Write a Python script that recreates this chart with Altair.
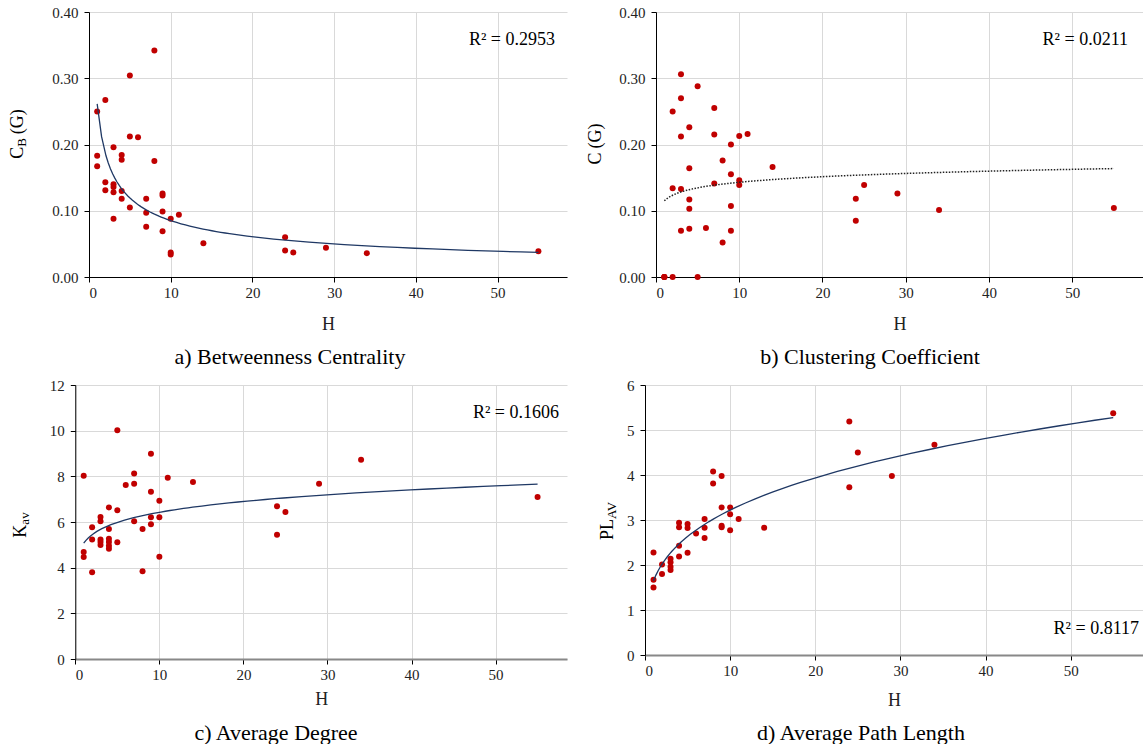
import altair as alt
import pandas as pd

# ---------------- data ----------------
H_a = [1, 1, 1, 2, 2, 2, 3, 3, 3, 3, 3, 4, 4, 4, 4, 5, 5, 5, 6, 7, 7, 7, 8, 8,
       9, 9, 9, 9, 10, 10, 10, 11, 14, 24, 24, 25, 29, 34, 55]
CB = [0.250, 0.183, 0.167, 0.267, 0.143, 0.131, 0.196, 0.140, 0.136, 0.128, 0.088,
      0.184, 0.177, 0.130, 0.118, 0.304, 0.212, 0.105, 0.211, 0.118, 0.097, 0.076,
      0.342, 0.175, 0.126, 0.123, 0.099, 0.069, 0.088, 0.037, 0.034, 0.094, 0.051,
      0.060, 0.040, 0.037, 0.044, 0.036, 0.039]

H_b = [1, 1, 1, 2, 2, 2, 3, 3, 3, 3, 3, 4, 4, 4, 4, 4, 5, 5, 6, 7, 7, 7, 8, 8,
       9, 9, 9, 9, 10, 10, 10, 11, 14, 24, 24, 25, 29, 34, 55]
CC = [0.0, 0.0, 0.0, 0.250, 0.134, 0.0, 0.306, 0.270, 0.212, 0.133, 0.070,
      0.226, 0.164, 0.117, 0.103, 0.073, 0.288, 0.0, 0.074, 0.255, 0.215, 0.141,
      0.176, 0.052, 0.200, 0.155, 0.107, 0.070, 0.213, 0.146, 0.139, 0.216, 0.166,
      0.118, 0.085, 0.139, 0.126, 0.101, 0.104]

H_c = [1, 1, 1, 2, 2, 2, 3, 3, 3, 3, 3, 4, 4, 4, 4, 4, 4, 5, 5, 5, 6, 7, 7, 7,
       8, 8, 9, 9, 9, 9, 10, 10, 10, 11, 14, 24, 24, 25, 29, 34, 55]
KAV = [8.03, 4.69, 4.47, 5.77, 5.23, 3.80, 6.22, 6.03, 5.23, 5.12, 4.99,
       6.64, 5.69, 5.27, 5.12, 4.96, 4.83, 10.02, 6.51, 5.11, 7.62, 8.12, 7.68, 6.03,
       5.69, 3.84, 8.99, 7.33, 6.21, 5.90, 6.93, 6.21, 4.48, 7.94, 7.75,
       6.69, 5.44, 6.44, 7.68, 8.73, 7.10]

H_d = [1, 1, 1, 2, 2, 3, 3, 3, 3, 4, 4, 4, 4, 5, 5, 5, 6, 7, 7, 7, 8, 8,
       9, 9, 9, 9, 10, 10, 10, 11, 14, 24, 24, 25, 29, 34, 55]
PL = [2.28, 1.67, 1.50, 2.01, 1.80, 2.14, 2.06, 1.96, 1.89, 2.94, 2.84, 2.43, 2.19,
      2.91, 2.82, 2.27, 2.70, 3.02, 2.83, 2.60, 4.08, 3.81, 3.98, 3.28, 2.87, 2.84,
      3.28, 3.13, 2.77, 3.02, 2.83, 5.19, 3.73, 4.50, 3.98, 4.67, 5.37]

R2_TEXT = ["R\u00b2 = 0.2953", "R\u00b2 = 0.0211", "R\u00b2 = 0.1606", "R\u00b2 = 0.8117"]
CAPTIONS = ["a) Betweenness Centrality", "b) Clustering Coefficient",
            "c) Average Degree", "d) Average Path Length"]
X_TICKS = [0, 10, 20, 30, 40, 50]
Y_TICKS_AB = [0.0, 0.1, 0.2, 0.3, 0.4]
Y_TICKS_C = [0, 2, 4, 6, 8, 10, 12]
Y_TICKS_D = [0, 1, 2, 3, 4, 5, 6]

# ---------------- style ----------------
FONT = "Liberation Serif"
RED = "#C00000"
NAVY = "#1F3864"
XMAX = 58.5
EM = {"C": .667, "B": .667, "K": .722, "a": .444, "v": .5, "P": .556, "L": .611,
      "A": .722, "V": .722, " ": .25, "(": .333, ")": .333, "G": .722}


def tw(s, size):
    return sum(EM.get(ch, .5) for ch in s) * size


def ytitle(parts, cx, cy):
    # parts: (text, font size, shift across the text line, gap before)
    total = sum(tw(t, s) + g for t, s, _, g in parts)
    y = cy + total / 2
    out = []
    for t, s, dx, g in parts:
        y -= g
        out.append(
            alt.Chart(pd.DataFrame({"t": [t]}))
            .mark_text(angle=270, align="left", baseline="middle", font=FONT,
                       fontSize=s, color="#000")
            .encode(text="t:N", x=alt.value(cx + dx), y=alt.value(y))
        )
        y -= tw(t, s)
    return out


def anchor(x, y):
    return (alt.Chart(pd.DataFrame({"a": [0]}))
            .mark_rect(opacity=0)
            .encode(x=alt.value(x), x2=alt.value(x + 1), y=alt.value(y), y2=alt.value(y + 1)))


def panel(H, V, c):
    df = pd.DataFrame({"H": H, "V": V})
    shift = c.get("shift", 0)
    xs = dict(domain=[0, XMAX], nice=False, zero=False)
    if shift:
        xs["range"] = [-shift, c["w"]]
    x = alt.X("H:Q", scale=alt.Scale(**xs),
              axis=alt.Axis(values=X_TICKS, title="H", titlePadding=c["xtp"],
                            domainColor=c["xdc"], domainWidth=c["xdw"],
                            labelFont=FONT, titleFont=FONT, labelPadding=3))
    yax = dict(values=c["yticks"], format=c["yfmt"], title=None,
               labelFont=FONT, labelPadding=6)
    if shift:
        yax["offset"] = shift
    y = alt.Y("V:Q", scale=alt.Scale(domain=[0, c["yticks"][-1]], nice=False, zero=False),
              axis=alt.Axis(**yax))
    pts = alt.Chart(df).mark_circle(size=36, color=RED, opacity=1).encode(x=x, y=y)
    lk = dict(color=c["lc"], strokeWidth=c["lw"])
    if c.get("dash"):
        lk["strokeDash"] = c["dash"]
    fit = (alt.Chart(df).transform_regression("H", "V", method=c["method"])
           .mark_line(**lk).encode(x="H:Q", y="V:Q"))
    r2 = (alt.Chart(pd.DataFrame({"t": [c["r2"]]}))
          .mark_text(align="right", baseline="middle", font=FONT, fontSize=18, color="#000")
          .encode(text="t:N", x=alt.value(c["r2x"]), y=alt.value(c["r2y"])))
    cap = (alt.Chart(pd.DataFrame({"t": [c["cap"]]}))
           .mark_text(align="center", baseline="middle", font=FONT, fontSize=22, color="#000")
           .encode(text="t:N", x=alt.value(c["capx"]), y=alt.value(c["capy"])))
    layers = [pts, fit, r2, cap] + ytitle(c["title"], c["tx"], c["ty"])
    layers += [anchor(*a) for a in c.get("anchors", [])]
    return alt.layer(*layers).properties(width=c["w"], height=c["h"])


pa = panel(H_a, CB, dict(w=478, h=265, yticks=Y_TICKS_AB, yfmt=".2f", method="pow",
                         lc=NAVY, lw=1.3, r2=R2_TEXT[0], r2x=466, r2y=28,
                         cap=CAPTIONS[0], capx=201, capy=345, xtp=15, xdc="#000", xdw=1,
                         title=[("C", 18, 0, 0), ("B", 13, 4, 0), ("(G)", 18, 0, 4)],
                         tx=-71, ty=122,
                         anchors=[(-89, -12), (-89, 362)]))
pb = panel(H_b, CC, dict(w=487, h=265, yticks=Y_TICKS_AB, yfmt=".2f", method="log",
                         lc="#222", lw=1.5, dash=[1.5, 1.5], r2=R2_TEXT[1], r2x=472, r2y=28,
                         cap=CAPTIONS[1], capx=214, capy=345, xtp=15, xdc="#000", xdw=1,
                         title=[("C", 18, 0, 0), ("(G)", 18, 0, 4)], tx=-60, ty=132))
# panel c: its plot group shares the left origin of panel a (x=89); the scale range
# starts 13.7 px further left so that its axis sits where the reference has it
pc = panel(H_c, KAV, dict(w=478, shift=13.7, h=274, yticks=Y_TICKS_C, yfmt="d", method="pow",
                          lc=NAVY, lw=1.3, r2=R2_TEXT[2], r2x=470, r2y=28,
                          cap=CAPTIONS[2], capx=187, capy=348, xtp=8, xdc="#888", xdw=2,
                          title=[("K", 18, 0, 0), ("av", 13, 4, 0)], tx=-68, ty=140,
                          anchors=[(0, -10)]))
pd_ = panel(H_d, PL, dict(w=498, h=270, yticks=Y_TICKS_D, yfmt="d", method="pow",
                          lc=NAVY, lw=1.3, r2=R2_TEXT[3], r2x=494, r2y=244,
                          cap=CAPTIONS[3], capx=216, capy=348, xtp=13, xdc="#888", xdw=2,
                          title=[("PL", 18, 0, 0), ("AV", 13, 4, 0)], tx=-37, ty=135))

row1 = alt.hconcat(pa, pb, spacing=89, bounds="flush")
row2 = alt.hconcat(pc, pd_, spacing=78, bounds="flush")

chart = (
    alt.vconcat(row1, row2, spacing=0)
    .properties(padding=0, background="white")
    .configure_view(stroke=None)
    .configure_axis(labelFont=FONT, labelFontSize=15, labelColor="#222",
                    titleFont=FONT, titleFontSize=18, titleFontWeight="normal",
                    titleColor="#222", gridColor="#d9d9d9", gridWidth=1,
                    domainColor="#000", domainWidth=1, tickColor="#000", tickSize=5)
)

chart.save("out.html", embed_options={"renderer": "svg", "actions": False})
